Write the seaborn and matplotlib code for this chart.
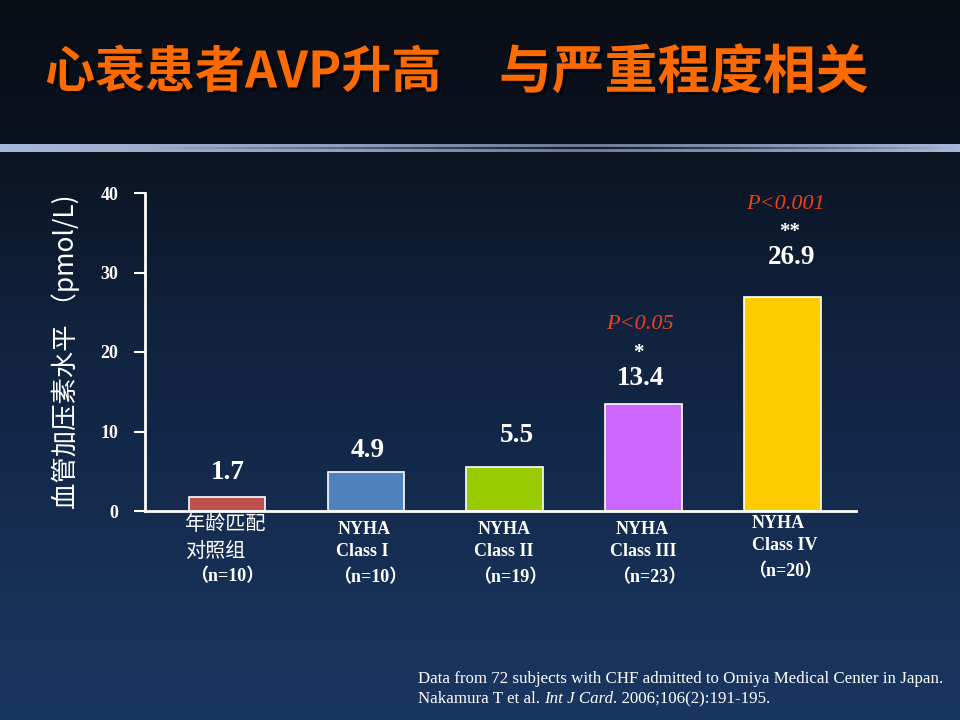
import numpy as np
import pandas as pd
import seaborn as sns
import matplotlib.pyplot as plt
import matplotlib.patheffects as pe
from matplotlib.colors import LinearSegmentedColormap

# data
groups = ['对照组', 'NYHA I', 'NYHA II', 'NYHA III', 'NYHA IV']
avp = [1.7, 4.9, 5.5, 13.4, 26.9]
value_labels = ['1.7', '4.9', '5.5', '13.4', '26.9']
bar_colors = ['#c0504d', '#4f81bd', '#99cc00', '#cc66ff', '#ffcc00']
yticks = [0, 10, 20, 30, 40]
cat_lines = [['年龄匹配', '对照组', '（n=10）'],
             ['NYHA', 'Class I', '（n=10）'],
             ['NYHA', 'Class II', '（n=19）'],
             ['NYHA', 'Class III', '（n=23）'],
             ['NYHA', 'Class IV', '（n=20）']]
stars = {3: '*', 4: '**'}
pvals = {3: 'P<0.05', 4: 'P<0.001'}

df = pd.DataFrame({'group': groups, 'avp': avp})

sns.set_style('white')
serif = ['Liberation Serif', 'Noto Sans CJK SC']
cjk = ['Noto Sans CJK SC', 'DejaVu Sans']
plt.rcParams['font.family'] = serif

W, H = 960, 720
fig = plt.figure(figsize=(9.6, 7.2), dpi=100)

# background gradient
bg = fig.add_axes([0, 0, 1, 1], zorder=-10)
bg_cmap = LinearSegmentedColormap.from_list(
    'bg', [(0, '#090d14'), (0.2, '#0b1320'), (0.45, '#10223d'), (1, '#1a3762')])
bg.imshow(np.linspace(0, 1, 256).reshape(-1, 1), aspect='auto', cmap=bg_cmap,
          extent=[0, W, H, 0])
# separator band
band_cmap = LinearSegmentedColormap.from_list(
    'band', [(0, '#a6b8da'), (0.35, '#8f9fbf'), (0.6, '#6c7a95'), (0.85, '#8d9cbb'), (1, '#a6b8da')])
bg.imshow(np.linspace(0, 1, 256).reshape(1, -1), aspect='auto', cmap=band_cmap,
          extent=[0, W, 152, 144])
dark_cmap = LinearSegmentedColormap.from_list(
    'dk', [(0, (0, 0, 0, 0)), (0.55, (0.02, 0.03, 0.06, 0.85)), (1, (0, 0, 0, 0))])
bg.imshow(np.linspace(0, 1, 256).reshape(1, -1), aspect='auto', cmap=dark_cmap,
          extent=[150, W, 149.5, 148])
bg.set_xlim(0, W)
bg.set_ylim(H, 0)
bg.axis('off')


def fx(x):
    return x / W


def fy(y):
    return 1 - y / H


# title
shadow = [pe.withSimplePatchShadow(offset=(2, -2), shadow_rgbFace='black', alpha=0.7)]
fig.text(fx(45), fy(73), '心衰患者AVP升高', color='#ff6a00', fontsize=36, fontweight='bold',
         family=cjk, va='center', ha='left', path_effects=shadow)
fig.text(fx(499), fy(73), '与严重程度相关', color='#ff6a00', fontsize=38, fontweight='bold',
         family=cjk, va='center', ha='left', path_effects=shadow)

# main chart
ax = fig.add_axes([fx(145), fy(511), (856 - 145) / W, (511 - 193) / H])
ax.set_facecolor('none')
sns.barplot(data=df, x='group', y='avp', hue='group', palette=bar_colors, legend=False,
            width=0.55, edgecolor='white', linewidth=1.2, saturation=1, ax=ax)
ax.set_xlim(-0.59, 4.53)
ax.set_ylim(0, 40)
ax.set_yticks(yticks)
ax.set_yticklabels([str(t) for t in yticks], color='white', fontsize=13, fontweight='bold')
ax.tick_params(axis='y', direction='out', length=8, width=1.5, color='white', left=True, pad=11)
ax.tick_params(axis='x', bottom=False, labelbottom=False)
ax.set_xlabel('')
ax.set_ylabel('')
sns.despine(ax=ax)
for s in ['left', 'bottom']:
    ax.spines[s].set_color('white')
    ax.spines[s].set_linewidth(2)

# value labels above bars (offsets in pixels from bar top)
val_off = [(0.5, 25), (1.5, 22), (12, 32), (-3, 26), (9.5, 40)]
for i, (v, lab) in enumerate(zip(avp, value_labels)):
    dx, dy = val_off[i]
    ax.annotate(lab, xy=(i, v), xytext=(dx, dy), textcoords='offset pixels',
                ha='center', va='center', color='white', fontsize=19.5, fontweight='bold')

star_off = {3: (-5, 51), 4: (7.5, 65)}
p_off = {3: (-4, 80), 4: (3.5, 93)}
for i, s in stars.items():
    ax.annotate(s, xy=(i, avp[i]), xytext=star_off[i], textcoords='offset pixels',
                ha='center', va='center', color='white', fontsize=15, fontweight='bold')
for i, p in pvals.items():
    ax.annotate(p, xy=(i, avp[i]), xytext=p_off[i], textcoords='offset pixels',
                ha='center', va='center', color='#e8421c', fontsize=16, style='italic')

# category labels under bars
cat_layout = [[(-41.5, -14, 'left'), (-41.5, -40, 'left'), (0.5, -66, 'center')],
              [(-28.5, -19, 'left'), (-29.5, -41, 'left'), (4.5, -67, 'center')],
              [(-27, -19, 'left'), (-31, -41, 'left'), (5, -67, 'center')],
              [(-28, -19, 'left'), (-34, -41, 'left'), (6, -67, 'center')],
              [(-30.5, -12, 'left'), (-30.5, -34, 'left'), (2.5, -61, 'center')]]
for i, lines in enumerate(cat_lines):
    for text, (dx, dy, ha) in zip(lines, cat_layout[i]):
        is_cjk = i == 0 and ha == 'left'
        ax.annotate(text, xy=(i, 0), xytext=(dx, dy), textcoords='offset pixels',
                    ha=ha, va='center', color='white',
                    fontsize=14.5 if is_cjk else 13,
                    fontweight='normal' if is_cjk else 'bold',
                    family=cjk if is_cjk else serif, annotation_clip=False)

# y axis title
fig.text(fx(66), fy(352), '血管加压素水平 （pmol/L)', rotation=90, color='white',
         fontsize=19, family=cjk, ha='center', va='center')

# footnote
fig.text(fx(418), fy(679), 'Data from 72 subjects with CHF admitted to Omiya Medical Center in Japan.',
         color='white', fontsize=12.2, ha='left', va='center')
renderer = fig.canvas.get_renderer()
x0 = 418
for piece, st in [('Nakamura T et al. ', 'normal'), ('Int J Card', 'italic'),
                  ('. 2006;106(2):191-195.', 'normal')]:
    t = fig.text(fx(x0), fy(699), piece, color='white', fontsize=12.2, style=st,
                 ha='left', va='center')
    x0 += t.get_window_extent(renderer).width

fig.savefig('out.png', dpi=100)
